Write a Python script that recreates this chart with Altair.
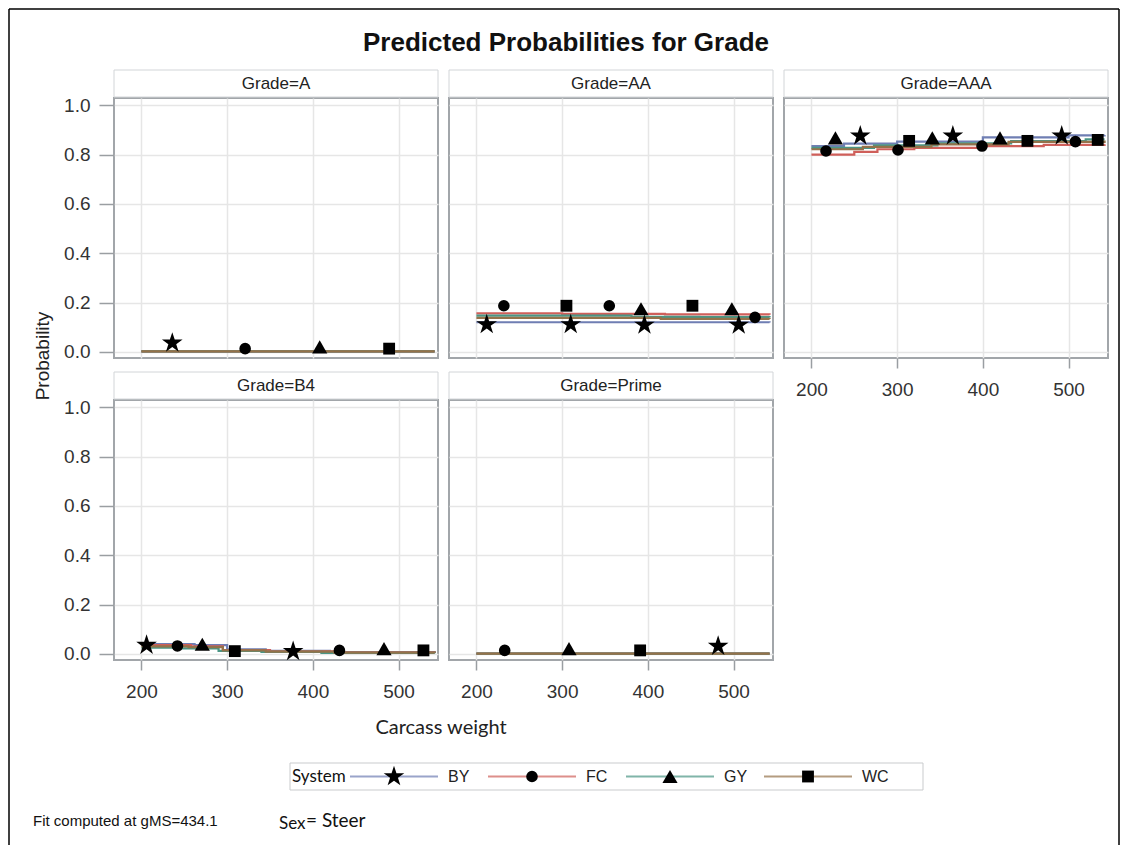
import altair as alt
import pandas as pd

# ---- data -------------------------------------------------------------
grades = ["A", "AA", "AAA", "B4", "Prime"]
systems = ["BY", "FC", "GY", "WC"]

# Step fits of predicted probability: (system, carcass weight, probability)
fit_A = [("BY", 200, 0.002), ("BY", 542, 0.002),
         ("FC", 200, 0.002), ("FC", 542, 0.002),
         ("GY", 200, 0.002), ("GY", 542, 0.002),
         ("WC", 200, 0.002), ("WC", 542, 0.002)]
fit_AA = [("BY", 200, 0.120), ("BY", 542, 0.119),
          ("FC", 200, 0.156), ("FC", 300, 0.154), ("FC", 420, 0.152), ("FC", 542, 0.151),
          ("GY", 200, 0.147), ("GY", 381, 0.142), ("GY", 460, 0.141), ("GY", 542, 0.140),
          ("WC", 200, 0.138), ("WC", 415, 0.134), ("WC", 542, 0.133)]
fit_AAA = [("BY", 200, 0.835), ("BY", 238, 0.845), ("BY", 300, 0.853), ("BY", 400, 0.870),
           ("BY", 500, 0.878), ("BY", 542, 0.880),
           ("FC", 200, 0.800), ("FC", 250, 0.811), ("FC", 277, 0.822), ("FC", 320, 0.828),
           ("FC", 397, 0.835), ("FC", 471, 0.840), ("FC", 542, 0.842),
           ("GY", 200, 0.828), ("GY", 273, 0.838), ("GY", 347, 0.846), ("GY", 433, 0.855),
           ("GY", 520, 0.862), ("GY", 542, 0.862),
           ("WC", 200, 0.822), ("WC", 260, 0.832), ("WC", 340, 0.842), ("WC", 430, 0.852),
           ("WC", 542, 0.858)]
fit_B4 = [("BY", 200, 0.040), ("BY", 262, 0.035), ("BY", 300, 0.018), ("BY", 345, 0.012),
          ("BY", 420, 0.007), ("BY", 542, 0.004),
          ("FC", 200, 0.035), ("FC", 258, 0.030), ("FC", 295, 0.015), ("FC", 350, 0.010),
          ("FC", 430, 0.006), ("FC", 542, 0.003),
          ("GY", 200, 0.025), ("GY", 240, 0.022), ("GY", 290, 0.012), ("GY", 340, 0.008),
          ("GY", 410, 0.004), ("GY", 542, 0.002),
          ("WC", 200, 0.030), ("WC", 255, 0.027), ("WC", 295, 0.014), ("WC", 345, 0.009),
          ("WC", 425, 0.005), ("WC", 542, 0.003)]
fit_Prime = [("BY", 200, 0.001), ("BY", 542, 0.001),
             ("FC", 200, 0.001), ("FC", 542, 0.001),
             ("GY", 200, 0.001), ("GY", 542, 0.001),
             ("WC", 200, 0.001), ("WC", 542, 0.001)]

# Group markers placed along the fits: (system, carcass weight, probability)
markers_A = [("BY", 236, 0.036), ("FC", 321, 0.013), ("GY", 408, 0.020), ("WC", 489, 0.013)]
markers_AA = [("BY", 212, 0.111), ("BY", 310, 0.111), ("BY", 396, 0.109), ("BY", 506, 0.109),
              ("FC", 232, 0.187), ("FC", 355, 0.187), ("FC", 525, 0.140),
              ("GY", 392, 0.175), ("GY", 498, 0.175),
              ("WC", 305, 0.187), ("WC", 452, 0.187)]
markers_AAA = [("BY", 257, 0.876), ("BY", 365, 0.876), ("BY", 492, 0.876),
               ("FC", 217, 0.815), ("FC", 301, 0.819), ("FC", 399, 0.835), ("FC", 508, 0.853),
               ("GY", 228, 0.868), ("GY", 341, 0.868), ("GY", 420, 0.868),
               ("WC", 314, 0.856), ("WC", 452, 0.856), ("WC", 534, 0.860)]
markers_B4 = [("BY", 206, 0.035), ("BY", 377, 0.010),
              ("FC", 242, 0.032), ("FC", 431, 0.014),
              ("GY", 271, 0.039), ("GY", 483, 0.021),
              ("WC", 309, 0.011), ("WC", 529, 0.014)]
markers_Prime = [("BY", 482, 0.031), ("FC", 233, 0.014), ("GY", 308, 0.021), ("WC", 391, 0.014)]

x_ticks = [200, 300, 400, 500]
y_ticks = [0.0, 0.2, 0.4, 0.6, 0.8, 1.0]

title_text = ["Predicted Probabilities for Grade"]
x_title = ["Carcass weight"]
y_title = ["Probability"]
legend_title = ["System"]
fit_note = ["Fit computed at gMS=434.1"]
sex_note = ["Sex", "= Steer"]

# ---- tables ------------------------------------------------------------
fit_rows, marker_rows = [], []
for g, fits, marks in zip(grades,
                          [fit_A, fit_AA, fit_AAA, fit_B4, fit_Prime],
                          [markers_A, markers_AA, markers_AAA, markers_B4, markers_Prime]):
    fit_rows += [{"Grade": g, "System": s, "Weight": w, "Prob": p} for s, w, p in fits]
    marker_rows += [{"Grade": g, "System": s, "Weight": w, "Prob": p} for s, w, p in marks]
fit_df = pd.DataFrame(fit_rows)
marker_df = pd.DataFrame(marker_rows)
grade_df = pd.DataFrame({"Grade": grades})
legend_df = pd.DataFrame({"System": systems})

# ---- styling -----------------------------------------------------------
PW, PH = 324, 260
FONT = "Liberation Sans"
line_colors = ["#6F7EB3", "#CF5F5A", "#4A9685", "#94724A"]
STAR = ("M0,-1L0.2245,-0.309L0.9511,-0.309L0.3633,0.118L0.5878,0.809L0,0.382"
        "L-0.5878,0.809L-0.3633,0.118L-0.9511,-0.309L-0.2245,-0.309Z")
# marker symbol and area per system
marker_style = {"BY": (STAR, 470), "FC": ("circle", 135), "GY": ("triangle-up", 230),
                "WC": ("square", 140)}

x_scale = alt.Scale(domain=[168, 546], nice=False, zero=False)
y_scale = alt.Scale(domain=[-0.025, 1.03], nice=False, zero=False)
color_scale = alt.Scale(domain=systems, range=line_colors)


def text_layer(values, **mark):
    return alt.Chart(pd.DataFrame({"t": values})).mark_text(**mark)


def marker_layers(source, x, y):
    layers = []
    for s in systems:
        shape, size = marker_style[s]
        layers.append(source.transform_filter(alt.datum.System == s)
                      .mark_point(filled=True, color="black", opacity=1, strokeWidth=0,
                                  shape=shape, size=size)
                      .encode(x=x, y=y))
    return layers


def panel(grade, show_x, show_y, extra=()):
    xa = alt.Axis(values=x_ticks, labels=show_x, ticks=show_x, title=None,
                  grid=True, domain=False)
    ya = alt.Axis(values=y_ticks, labels=show_y, ticks=show_y, title=None,
                  grid=True, domain=False, format=".1f")
    hdr = (alt.Chart(grade_df)
           .transform_filter(alt.datum.Grade == grade)
           .transform_calculate(label="'Grade=' + datum.Grade"))
    strip = hdr.mark_rect(fill="white", stroke="#d2d5d8", strokeWidth=1).encode(
        x=alt.value(0), x2=alt.value(PW), y=alt.value(-28), y2=alt.value(-1))
    strip_text = hdr.mark_text(font=FONT, fontSize=17, color="#222").encode(
        x=alt.value(PW / 2), y=alt.value(-14), text="label:N")
    x = alt.X("Weight:Q", scale=x_scale, axis=xa)
    y = alt.Y("Prob:Q", scale=y_scale, axis=ya)
    lines = (alt.Chart(fit_df)
             .transform_filter(alt.datum.Grade == grade)
             .mark_line(interpolate="step-after", strokeWidth=2.2)
             .encode(x=x, y=y,
                     color=alt.Color("System:N", scale=color_scale, legend=None),
                     detail="System:N"))
    pts = marker_layers(alt.Chart(marker_df).transform_filter(alt.datum.Grade == grade), x, y)
    return alt.layer(strip, strip_text, lines, *pts, *extra).properties(width=PW, height=PH)


# outer frame (left, top and right edges) and the shared y title, kept with panel A
one = alt.Chart(grade_df).transform_filter(alt.datum.Grade == "A")
frame = [
    one.mark_rule(color="black", strokeWidth=1.5).encode(
        x=alt.value(-105), x2=alt.value(1005), y=alt.value(-89)),
    one.mark_rule(color="black", strokeWidth=1.5).encode(
        x=alt.value(-105), y=alt.value(-89), y2=alt.value(748)),
    one.mark_rule(color="black", strokeWidth=1.5).encode(
        x=alt.value(1005), y=alt.value(-89), y2=alt.value(748)),
]
y_lab = text_layer(y_title, font=FONT, fontSize=19, angle=270, color="#222").encode(
    x=alt.value(-71), y=alt.value(258), text="t:N")
title = text_layer(title_text, font=FONT, fontSize=26, fontWeight="bold", color="#111").encode(
    x=alt.value(117), y=alt.value(-55), text="t:N")
x_lab = text_layer(x_title, font="Lato", fontSize=20, color="#222").encode(
    x=alt.value(327), y=alt.value(328), text="t:N")

pA = panel("A", False, True, extra=frame + [y_lab])
pAA = panel("AA", False, False, extra=[title])
pAAA = panel("AAA", True, False)
pB4 = panel("B4", True, True, extra=[x_lab])
pPrime = panel("Prime", True, False)

# empty cell at the end of the second row
blank = one.mark_text(text="").encode(x=alt.value(0), y=alt.value(0)).properties(
    width=PW, height=PH, view=alt.ViewBackground(stroke="transparent"))

# ---- legend and footnotes ---------------------------------------------
leg_x = alt.X("System:N",
              scale=alt.Scale(type="point", domain=systems, range=[280, 694], padding=0),
              axis=None)
LY = 74.5
leg_box = one.mark_rect(fill="white", stroke="#c9cbcd", strokeWidth=1).encode(
    x=alt.value(176), x2=alt.value(809), y=alt.value(61), y2=alt.value(88))
leg_title = text_layer(legend_title, font="Lato", fontSize=17, align="left", color="#111").encode(
    x=alt.value(178), y=alt.value(LY), text="t:N")
leg_lines = alt.Chart(legend_df).mark_tick(orient="horizontal", size=88, thickness=2).encode(
    x=leg_x, y=alt.value(LY),
    color=alt.Color("System:N", scale=color_scale, legend=None))
leg_pts = marker_layers(alt.Chart(legend_df), leg_x, alt.value(LY))
leg_text = alt.Chart(legend_df).mark_text(font=FONT, fontSize=16, align="left", dx=54, color="#222").encode(
    x=leg_x, y=alt.value(LY), text="System:N")
note1 = text_layer(fit_note, font=FONT, fontSize=15, align="left", color="#111").encode(
    x=alt.value(-81), y=alt.value(119), text="t:N")
note_sex = text_layer(sex_note[:1], font="Lato", fontSize=17, align="left", color="#111").encode(
    x=alt.value(165), y=alt.value(122), text="t:N")
note_val = text_layer(sex_note[1:], font="Lato", fontSize=19, align="left", color="#111").encode(
    x=alt.value(192), y=alt.value(119), text="t:N")

legend_view = alt.layer(leg_box, leg_title, leg_lines, *leg_pts, leg_text,
                        note1, note_sex, note_val).properties(
    width=PW, height=60, view=alt.ViewBackground(stroke="transparent"))

chart = alt.concat(pA, pAA, pAAA, pB4, pPrime, blank, legend_view,
                   columns=3, spacing={"row": 42, "column": 11}, bounds="flush").properties(
    padding={"left": 7, "top": 7, "right": 0, "bottom": 0}
).configure(background="white").configure_view(
    stroke="#a2a6aa", strokeWidth=2
).configure_axis(
    gridColor="#e6e6e6", gridWidth=1.5, tickColor="#9a9ea2", tickWidth=1.5,
    labelFont=FONT, labelFontSize=19, labelColor="#333"
).configure_axisX(tickSize=10, labelPadding=12).configure_axisY(tickSize=15, labelPadding=9)

chart.save("out.html", embed_options={"renderer": "svg", "actions": False})
